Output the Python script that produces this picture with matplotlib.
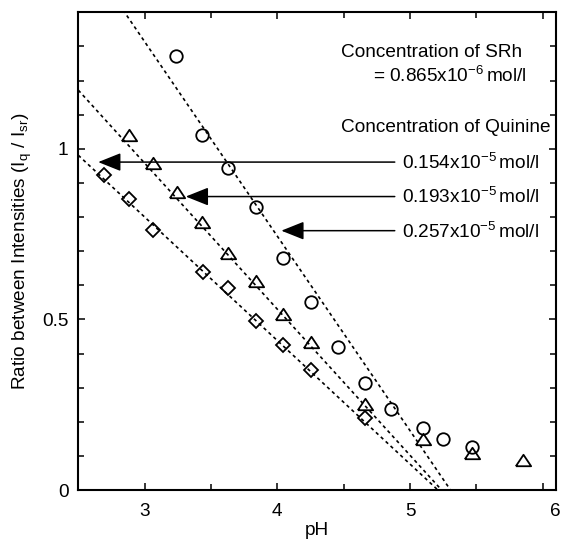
import matplotlib
matplotlib.use('Agg')
import numpy as np
import matplotlib.pyplot as plt
from matplotlib.ticker import MultipleLocator
from matplotlib.transforms import ScaledTranslation

plt.rcParams['font.family'] = 'Liberation Sans'
plt.rcParams['mathtext.fontset'] = 'custom'
plt.rcParams['mathtext.rm'] = 'Liberation Sans'
plt.rcParams['mathtext.it'] = 'Liberation Sans:italic'
plt.rcParams['mathtext.bf'] = 'Liberation Sans:bold'

# quinine 0.257x10^-5 mol/l (circles)
ph_c = [3.24, 3.43, 3.63, 3.84, 4.04, 4.25, 4.46, 4.66, 4.86, 5.10, 5.25, 5.47]
ratio_c = [1.271, 1.041, 0.943, 0.829, 0.679, 0.552, 0.420, 0.315, 0.237, 0.183, 0.149, 0.125]

# quinine 0.193x10^-5 mol/l (triangles)
ph_t = [2.88, 3.06, 3.245, 3.435, 3.63, 3.84, 4.045, 4.253, 4.66, 5.10, 5.468, 5.85]
ratio_t = [1.039, 0.959, 0.874, 0.784, 0.696, 0.613, 0.515, 0.433, 0.252, 0.149, 0.108, 0.088]

# quinine 0.154x10^-5 mol/l (diamonds)
ph_d = [2.695, 2.88, 3.06, 3.44, 3.63, 3.84, 4.04, 4.253, 4.66]
ratio_d = [0.922, 0.853, 0.763, 0.639, 0.593, 0.495, 0.424, 0.351, 0.211]

# dotted fit lines: slope and pH where the ratio reaches zero
fit_slope = [-0.570, -0.428, -0.362]
fit_ph0 = [5.305, 5.238, 5.21]

# arrows pointing from the labels to the curves
arrow_y = [0.961, 0.860, 0.760]
arrow_tip = [2.65, 3.31, 4.03]
arrow_tail = 4.885
conc_labels = ['0.154', '0.193', '0.257']

FS = 13.7

fig = plt.figure(figsize=(5.64, 5.48), dpi=100)
ax = fig.add_axes([0.1388, 0.1058, 0.847, 0.8718])

for s, x0 in zip(fit_slope, fit_ph0):
    xx = np.array([2.5, x0])
    ax.plot(xx, s * (xx - x0), color='black', lw=1.2, ls=(0, (2, 2)))

# flattened open triangle like the original marker
tri = [(-1, -0.75), (1, -0.75), (0, 0.75), (-1, -0.75)]

mk = dict(ls='none', mfc='none', mec='black', mew=1.3)
ax.plot(ph_c, ratio_c, marker='o', ms=9, **mk)
ax.plot(ph_t, ratio_t, marker=tri, ms=11, **mk)
ax.plot(ph_d, ratio_d, marker='D', ms=7.5, **mk)

for y, tip, lab in zip(arrow_y, arrow_tip, conc_labels):
    ax.annotate('', xy=(tip, y), xytext=(arrow_tail, y),
                arrowprops=dict(arrowstyle='-|>,head_length=1.0,head_width=0.4',
                                mutation_scale=14, color='black', lw=1.1,
                                shrinkA=0, shrinkB=0))
    ax.annotate(lab + r'x10$^{-5}\,$mol/l', xy=(4.94, y), xytext=(0, -5),
                textcoords='offset points', va='baseline', ha='left', fontsize=FS)

ax.text(4.48, 1.281, 'Concentration of SRh', va='center', ha='left', fontsize=FS)
ax.text(4.72, 1.212, r'= 0.865x10$^{-6}\,$mol/l', va='center', ha='left', fontsize=FS)
ax.text(4.48, 1.061, 'Concentration of Quinine', va='center', ha='left', fontsize=FS)

ax.set_xlim(2.5, 6.1)
ax.set_ylim(0, 1.4)
ax.xaxis.set_minor_locator(MultipleLocator(0.5))
ax.yaxis.set_minor_locator(MultipleLocator(0.1))
ax.set_xticks([3, 4, 5, 6])
ax.set_xticklabels(['3', '4', '5', '6'])
ax.set_yticks([0, 0.5, 1])
ax.set_yticklabels(['0', '0.5', '1'])
ax.tick_params(which='both', direction='in', top=True, right=True, width=1.1)
ax.tick_params(which='major', length=5, labelsize=FS)
ax.tick_params(axis='x', which='major', pad=9)
ax.tick_params(axis='y', which='major', pad=7)
ax.tick_params(which='minor', length=4)
for sp in ax.spines.values():
    sp.set_linewidth(1.5)

# the "6" label sits under the right frame edge in the original
lab6 = ax.get_xticklabels()[-1]
lab6.set_transform(lab6.get_transform() + ScaledTranslation(0.13, 0, fig.dpi_scale_trans))

ax.set_xlabel('pH', fontsize=FS, labelpad=2)
ax.set_ylabel(r'Ratio between Intensities (I$_\mathrm{q}$ / I$_\mathrm{sr}$)', fontsize=FS, labelpad=6)

fig.savefig('out.png', dpi=100)
